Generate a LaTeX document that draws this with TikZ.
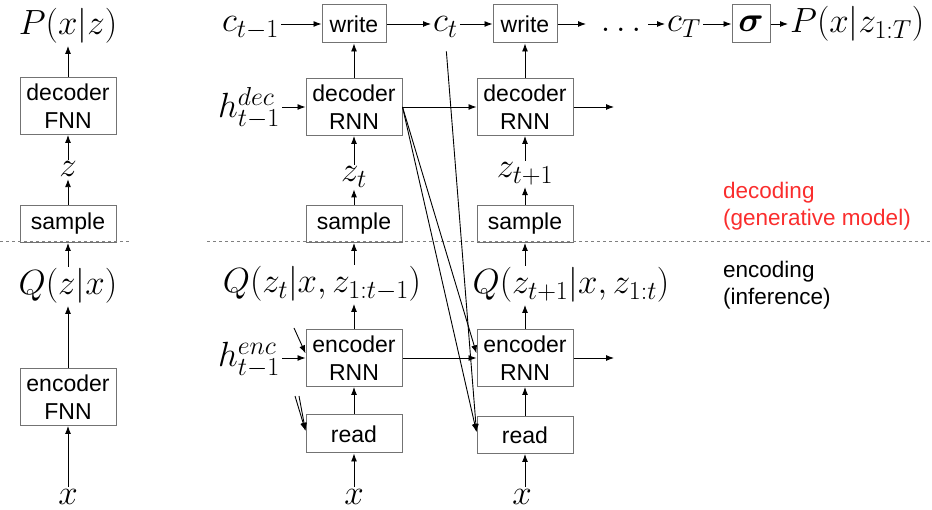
\RequirePackage{fix-cm}
\documentclass[tikz,border=0pt]{standalone}
\usepackage{fontspec}
\setsansfont{Liberation Sans}
\usepackage{bm}
\DeclareMathSizes{35}{35}{26}{19}
\usetikzlibrary{arrows.meta,calc}
\definecolor{decred}{RGB}{250,45,45}
\begin{document}
\begin{tikzpicture}[x=1pt,y=-1pt,
  box/.style={draw=black!55, line width=1pt, minimum width=96pt, minimum height=57pt, inner sep=0pt, align=center, font=\sffamily\fontsize{23}{28}\selectfont},
  sbox/.style={box, minimum height=37pt},
  wbox/.style={box, minimum width=64pt, minimum height=38pt},
  mlab/.style={inner sep=2pt, font=\fontsize{35}{42}\selectfont},
  arr/.style={-{Latex[length=8pt,width=6pt]}, line width=0.9pt, black},
  sepline/.style={draw=black!50, line width=1pt, dash pattern=on 3pt off 3pt},
  note/.style={anchor=north west, inner sep=0pt, align=left, font=\sffamily\fontsize{22.5}{27}\selectfont}
]
\useasboundingbox (0,0) rectangle (932,510);

% ---- left column (VAE)
\node[box] (decF) at (68,106) {decoder\\FNN};
\node[sbox] (samp0) at (68,224) {sample};
\node[box] (encF) at (68,397) {encoder\\FNN};
\node[mlab, anchor=base] (P0) at (68,35) {$P(x|z)$};
\node[mlab, anchor=base] (z0) at (68,177) {$z$};
\node[mlab, anchor=base] (Q0) at (68,295) {$Q(z|x)$};
\node[mlab, anchor=base] (x0) at (68,504) {$x$};

% ---- column t
\node[wbox] (w1) at (354,24) {write};
\node[box] (dec1) at (354,107) {decoder\\RNN};
\node[sbox] (samp1) at (354,224) {sample};
\node[box] (enc1) at (354,358) {encoder\\RNN};
\node[sbox, minimum height=38pt] (read1) at (354,434) {read};
\node[mlab, anchor=base east] (c0) at (281,32) {$c_{t-1}$};
\node[mlab, anchor=base east] (hd) at (282,118) {$h^{dec}_{t-1}$};
\node[mlab, anchor=base] (z1) at (354,182) {$z_t$};
\node[mlab, anchor=base] (Q1) at (322,293) {$Q(z_t|x,z_{1:t-1})$};
\node[mlab, anchor=base east] (he) at (282,367) {$h^{enc}_{t-1}$};
\node[mlab, anchor=base] (x1) at (354,504) {$x$};

% ---- column t+1
\node[wbox] (w2) at (525,24) {write};
\node[box] (dec2) at (525,107) {decoder\\RNN};
\node[sbox] (samp2) at (525,224) {sample};
\node[box] (enc2) at (525,358) {encoder\\RNN};
\node[sbox] (read2) at (525,435) {read};
\node[mlab, anchor=base west] (ct) at (431,32) {$c_t$};
\node[mlab, anchor=base] (z2) at (525,178) {$z_{t+1}$};
\node[mlab, anchor=base] (Q2) at (571,294) {$Q(z_{t+1}|x,z_{1:t})$};
\node[mlab, anchor=base] (x2) at (522,504) {$x$};

% ---- top right chain
\node[mlab, anchor=base] (dots) at (621,32) {$\ldots$};
\node[mlab, anchor=base west] (cT) at (665,32) {$c_T$};
\node[wbox, minimum width=38pt, font=\fontsize{35}{42}\selectfont] (sig) at (751,24) {$\bm{\sigma}$};
\node[mlab, anchor=base west] (PT) at (788,33) {$P(x|z_{1:T})$};

% ---- notes
\node[note, text=decred] (gen) at (723,182) {decoding\\(generative model)};
\node[note] (inf) at (723,261) {encoding\\(inference)};

% ---- separator
\draw[sepline] (0,242) -- (130,242);
\draw[sepline] (207,242) -- (932,242);

% ---- free ends
\coordinate (wout) at (586,24);
\coordinate (dout) at (614,107);
\coordinate (eout) at (614,358);
\coordinate (e1stub) at (294,328);
\coordinate (r1stubA) at (295,396);
\coordinate (r1stubB) at (299,396);
\coordinate (e1in) at ($(enc1.north west)!0.42!(enc1.south west)$);
\coordinate (r1in) at ($(read1.north west)!0.42!(read1.south west)$);
\coordinate (e2in) at ($(enc2.north west)!0.42!(enc2.south west)$);
\coordinate (r2in) at ($(read2.north west)!0.42!(read2.south west)$);

% ---- left arrows
\draw[arr] (x0) -- (encF);
\draw[arr] (encF) -- (Q0);
\draw[arr] (Q0) -- (samp0);
\draw[arr] (samp0) -- (z0);
\draw[arr] (z0) -- (decF);
\draw[arr] (decF) -- (P0);

% ---- column t arrows
\draw[arr] (x1) -- (read1);
\draw[arr] (read1) -- (enc1);
\draw[arr] (enc1.north) -- (enc1.north |- Q1.south);
\draw[arr] (enc1.north |- Q1.north) -- (samp1.south);
\draw[arr] (samp1.north) -- (samp1.north |- z1.south);
\draw[arr] (samp1.north |- z1.north) -- (dec1.south);
\draw[arr] (dec1) -- (w1);
\draw[arr] (c0.east |- w1.west) -- (w1.west);
\draw[arr] (hd.east |- dec1.west) -- (dec1.west);
\draw[arr] (he.east |- enc1.west) -- (enc1.west);
\draw[arr] (e1stub) -- (e1in);
\draw[arr] (r1stubA) -- (r1in);
\draw[arr] (r1stubB) -- (r1in);

% ---- column t+1 arrows
\draw[arr] (x2.north -| read2.south) -- (read2.south);
\draw[arr] (read2) -- (enc2);
\draw[arr] (enc2.north) -- (enc2.north |- Q2.south);
\draw[arr] (enc2.north |- Q2.north) -- (samp2.south);
\draw[arr] (samp2.north) -- (samp2.north |- z2.south);
\draw[arr] (samp2.north |- z2.north) -- (dec2.south);
\draw[arr] (dec2) -- (w2);
\draw[arr] (w1.east) -- (ct.west |- w1.east);
\draw[arr] (ct.east |- w2.west) -- (w2.west);
\draw[arr] (dec1.east) -- (dec2.west);
\draw[arr] (enc1.east) -- (enc2.west);
\draw[arr] (dec2.east) -- (dout);
\draw[arr] (enc2.east) -- (eout);

% ---- cross-time links
\draw[arr] (dec1.east) -- (e2in);
\draw[arr] (dec1.east) -- (r2in);
\draw[arr, shorten <=12pt] (ct.south) -- (r2in);

% ---- top chain
\draw[arr] (w2.east) -- (wout);
\draw[arr, shorten <=5pt] (dots.east |- w2.east) -- (cT.west |- w2.east);
\draw[arr] (cT.east |- sig.west) -- (sig.west);
\draw[arr] (sig.east) -- (PT.west |- sig.east);
\end{tikzpicture}
\end{document}
